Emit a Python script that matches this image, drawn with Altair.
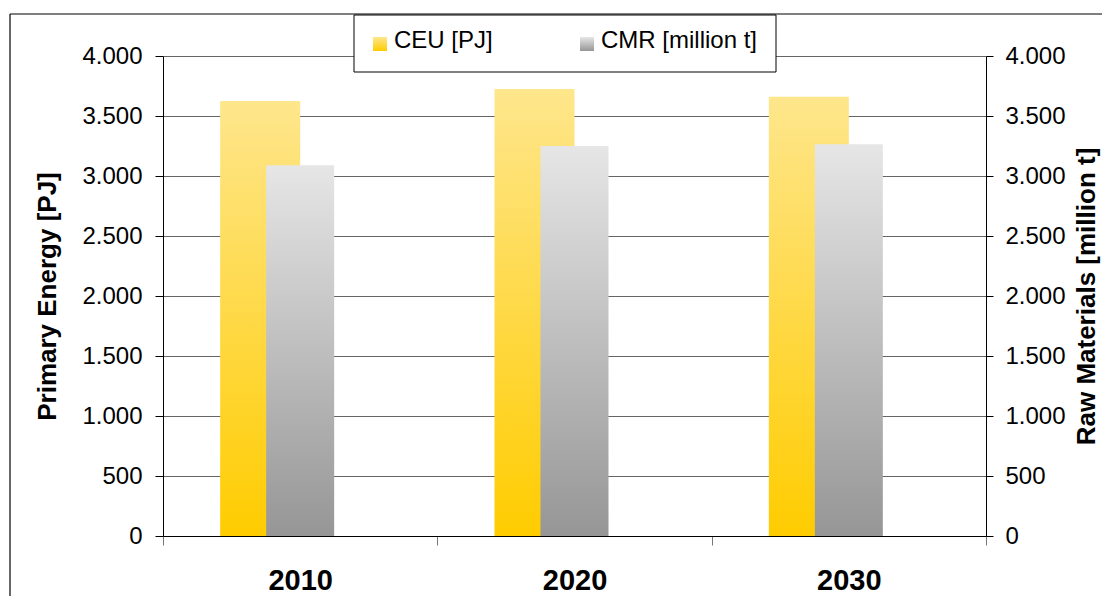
import altair as alt
import pandas as pd

years = ["2010", "2020", "2030"]
ceu = [3625, 3725, 3660]
cmr = [3090, 3250, 3265]
ticks = [0, 500, 1000, 1500, 2000, 2500, 3000, 3500, 4000]
series_names = ["CEU [PJ]", "CMR [million t]"]

df = pd.DataFrame({"year": years, "CEU": ceu, "CMR": cmr})

FONT = "Liberation Sans"
W, H = 823, 480

grad_y = alt.Gradient(gradient="linear", x1=0, x2=0, y1=1, y2=0,
                      stops=[alt.GradientStop(color="#FFCC00", offset=0),
                             alt.GradientStop(color="#FEE68C", offset=1)])
grad_g = alt.Gradient(gradient="linear", x1=0, x2=0, y1=1, y2=0,
                      stops=[alt.GradientStop(color="#969696", offset=0),
                             alt.GradientStop(color="#E6E6E6", offset=1)])

label_expr = "replace(format(datum.value, ','), ',', '.')"

x_enc = alt.X("year:N", title=None,
              scale=alt.Scale(paddingInner=0, paddingOuter=0),
              axis=alt.Axis(labelFont=FONT, labelFontSize=29, labelFontWeight="bold",
                            labelColor="black", labelAngle=0, labelPadding=21,
                            tickBand="extent", tickSize=9, tickColor="#777",
                            domainColor="black", grid=False))

base = alt.Chart(df)

ceu_bar = base.mark_bar(width=80, xOffset=-40, color=grad_y).encode(
    x=x_enc,
    y=alt.Y("CEU:Q", scale=alt.Scale(domain=[0, 4000], nice=False),
            axis=alt.Axis(orient="left", values=ticks, labelExpr=label_expr,
                          title="Primary Energy [PJ]", titleFont=FONT, titleFontSize=26,
                          titleFontWeight="bold", titleColor="black",
                          titleAngle=270, titleX=-116, titleY=H / 2,
                          titleAlign="center", titleBaseline="middle",
                          labelFont=FONT, labelFontSize=24, labelColor="black",
                          labelPadding=13, tickSize=8, tickColor="black",
                          domainColor="black", grid=True, gridColor="#666"))
)

cmr_bar = base.mark_bar(width=68, xOffset=0, color=grad_g).encode(
    x=x_enc,
    y=alt.Y("CMR:Q", scale=alt.Scale(domain=[0, 4000], nice=False),
            axis=alt.Axis(orient="right", values=ticks, labelExpr=label_expr,
                          title="Raw Materials [million t]", titleFont=FONT, titleFontSize=26,
                          titleFontWeight="bold", titleColor="black",
                          titleAngle=270, titleX=100, titleY=H / 2,
                          titleAlign="center", titleBaseline="middle",
                          labelFont=FONT, labelFontSize=24, labelColor="black",
                          labelPadding=12, tickSize=7, tickColor="black",
                          domainColor="black", grid=False))
)

one = alt.Chart(pd.DataFrame({"k": [0]}))

frame_top = one.mark_rule(color="black", strokeWidth=1.2).encode(
    x=alt.value(-153), x2=alt.value(W + 130), y=alt.value(-42))
frame_left = one.mark_rule(color="black", strokeWidth=1.2).encode(
    x=alt.value(-153), y=alt.value(-42), y2=alt.value(H + 70))

legend_box = one.mark_rect(fill="white", stroke="black", strokeWidth=1).encode(
    x=alt.value(191), x2=alt.value(613), y=alt.value(-41), y2=alt.value(16))
sw1 = one.mark_rect(color=grad_y).encode(
    x=alt.value(210), x2=alt.value(224), y=alt.value(-19), y2=alt.value(-5))
sw2 = one.mark_rect(color=grad_g).encode(
    x=alt.value(417), x2=alt.value(431), y=alt.value(-19), y2=alt.value(-5))
t1 = one.mark_text(font=FONT, fontSize=24, align="left", baseline="middle", color="black").encode(
    x=alt.value(231), y=alt.value(-15), text=alt.value(series_names[0]))
t2 = one.mark_text(font=FONT, fontSize=24, align="left", baseline="middle", color="black").encode(
    x=alt.value(438), y=alt.value(-15), text=alt.value(series_names[1]))

chart = alt.layer(
    ceu_bar, cmr_bar, frame_top, frame_left, legend_box, sw1, sw2, t1, t2
).resolve_scale(y="independent").properties(
    width=W, height=H,
    autosize=alt.AutoSizeParams(type="none"),
    padding={"left": 155, "top": 48, "right": 116, "bottom": 60},
    background="white",
).configure_view(stroke=None)

chart.save("out.html", embed_options={"renderer": "svg", "actions": False})
